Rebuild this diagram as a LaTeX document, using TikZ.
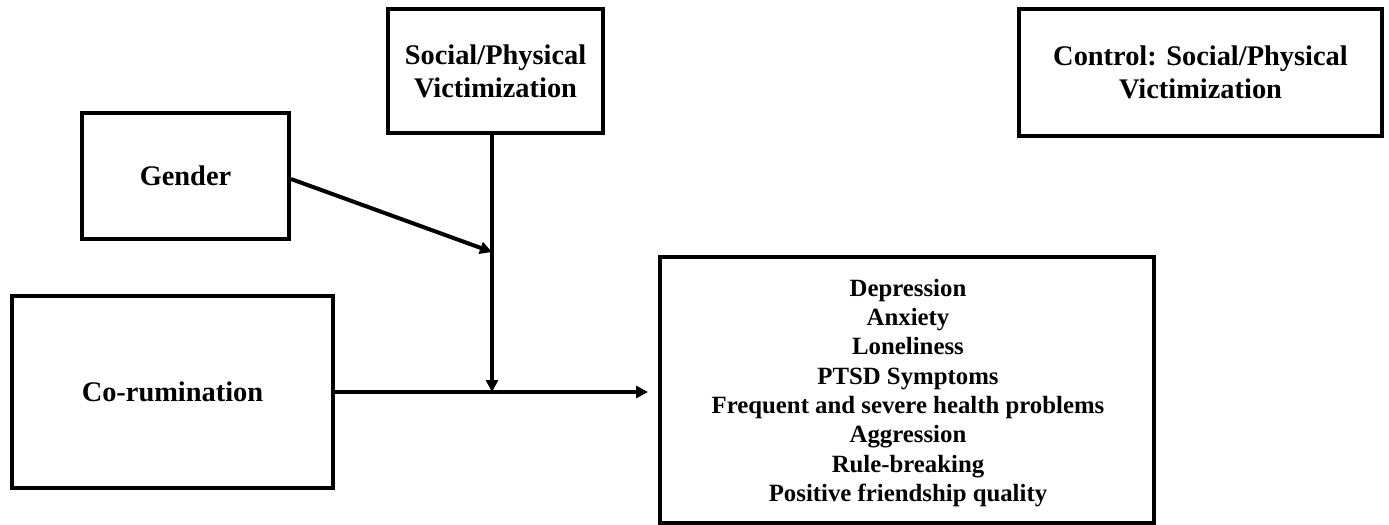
\documentclass[tikz,border=0pt]{standalone}
\usepackage{fontspec}
\setmainfont{Liberation Serif}
\usetikzlibrary{arrows.meta,calc}
\begin{document}
\begin{tikzpicture}[x=0.5pt,y=-0.5pt,
  box/.style={draw,line width=2pt,rectangle,inner sep=0pt,align=center,
    font=\bfseries\fontsize{14.2}{16.5}\selectfont},
  lbl/.style={align=center,inner sep=0pt,font=\bfseries\fontsize{12.4}{14.65}\selectfont},
  link/.style={line width=2pt,-{Triangle[length=6pt,width=6pt]}}]
\useasboundingbox (0,0) rectangle (1389,525);

\node[box,minimum width=107.5pt,minimum height=62pt] (soc) at (495.5,71)
  {Social/Physical\\Victimization};
\node[box,minimum width=103.5pt,minimum height=63pt] (gen) at (185.5,176) {Gender};
\node[box,minimum width=160.5pt,minimum height=96pt] (co) at (172.5,392) {Co-rumination};
\node[box,minimum width=181.5pt,minimum height=63.5pt] (ctl) at (1200.5,72.5)
  {Control: Social/Physical\\Victimization};
\node[box,minimum width=247pt,minimum height=133pt] (out) at (907,390) {};
\node[lbl] (outtxt) at (908,393)
  {Depression\\Anxiety\\Loneliness\\PTSD Symptoms\\Frequent and severe health problems\\
   Aggression\\Rule-breaking\\Positive friendship quality};

% moderator path starts slightly left of the box centre
\coordinate (s) at ([xshift=-1.75pt]soc.south);
\coordinate (j) at (s |- co.east);
\coordinate (m) at (s |- 0,252);

\draw[link,shorten >=5pt] (co.east) -- (out.west |- co.east);
\draw[link] (s) -- (j);
\draw[link] ([yshift=-1.5pt]gen.east) -- (m);
\end{tikzpicture}
\end{document}
